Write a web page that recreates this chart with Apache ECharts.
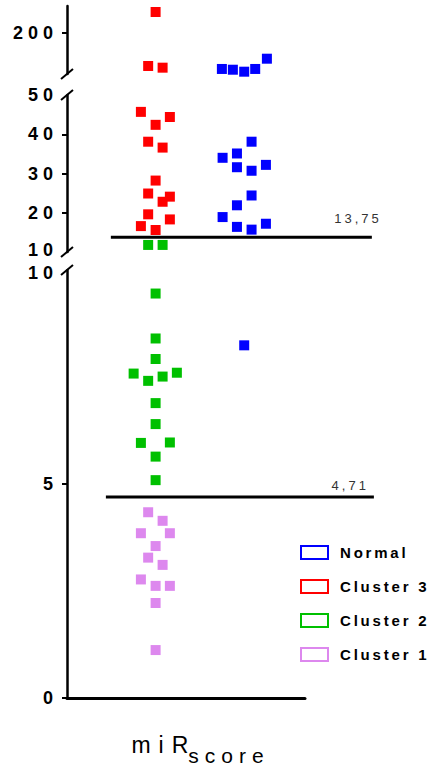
<!DOCTYPE html>
<html>
<head>
<meta charset="utf-8">
<script src="https://cdn.jsdelivr.net/npm/echarts@6/dist/echarts.min.js"></script>
<style>
html, body { margin: 0; padding: 0; background: #fff; }
#chart { width: 442px; height: 771px; }
#chart text[style*="18px"] { letter-spacing: 5px; }
#chart text[style*="15px"] { letter-spacing: 2.8px; }
#chart text[style*="13px"] { letter-spacing: 3px; }
#chart text[style*="23px"] { letter-spacing: 8px; }
#chart text[style*="21px"] { letter-spacing: 6px; }
</style>
</head>
<body>
<div id="chart"></div>
<script>
// ---------------- data ----------------
const groupNames = ['Normal', 'Cluster 3', 'Cluster 2', 'Cluster 1'];
const groupColumns = [2, 1, 1, 1];

const normalValues  = [147.4, 146.3, 143.4, 147.4, 162.5, 38.1, 34.0, 35.1, 31.6, 30.7, 32.2, 24.4, 21.9, 18.9, 16.4, 15.7, 17.2, 8.24];
const normalOffsets = [-0.252, -0.128, 0, 0.124, 0.256, 0.083, -0.244, -0.082, -0.082, 0.083, 0.245, 0.083, -0.082, -0.244, -0.082, 0.083, 0.245, 0];

const cluster3Values  = [231.2, 151.8, 149.3, 45.7, 42.4, 44.4, 38.1, 36.6, 28.2, 24.9, 24.1, 22.8, 19.6, 18.3, 16.6, 15.6];
const cluster3Offsets = [0, -0.084, 0.079, -0.166, 0, 0.161, -0.084, 0.079, 0, -0.084, 0.161, 0.079, -0.084, 0.161, -0.166, 0];

const cluster2Values  = [11.8, 11.8, 9.45, 8.40, 7.92, 7.58, 7.41, 7.51, 7.60, 6.89, 6.40, 5.96, 5.97, 5.64, 5.09];
const cluster2Offsets = [-0.084, 0.079, 0, 0, 0, -0.248, -0.084, 0.079, 0.240, 0, 0, -0.166, 0.161, 0, 0];

const cluster1Values  = [4.34, 4.14, 3.85, 3.85, 3.55, 3.28, 3.11, 2.77, 2.62, 2.62, 2.22, 1.12];
const cluster1Offsets = [-0.084, 0.079, -0.166, 0.161, 0, -0.084, 0.079, -0.166, 0, 0.161, 0, 0];

const thresholdValues = [13.75, 4.71];
const thresholdLabels = ['13,75', '4,71'];

const topTickLabels = [200];
const midTickLabels = [10, 20, 30, 40, 50];
const lowTickLabels = [0, 5, 10];
const xAxisTitle = ['miR', 'score'];

// ---------------- styling / layout ----------------
const groupColors = ['#0000FF', '#FF0000', '#00C000', '#DD88EE'];
const FONT = "'Liberation Sans', Arial, sans-serif";
const gridLeft = 67, gridWidth = 238, xMax = 2.686;
const overlayWidth = 313, overlayXMax = 3.533;
const segments = [
  { min: 140, max: 240, top: 6,   height: 68,  labels: topTickLabels, ticks: [200], edgeStyle: null },
  { min: 10,  max: 50,  top: 95,  height: 157, labels: midTickLabels, ticks: [20, 30, 40], edgeStyle: 'lo' },
  { min: 0,   max: 10,  top: 270, height: 429, labels: lowTickLabels, ticks: [0, 5], edgeStyle: 'hi' }
];
function segmentOf(v) { return v > 100 ? 0 : (v >= 10 ? 1 : 2); }

const groupValues = [normalValues, cluster3Values, cluster2Values, cluster1Values];
const groupOffsets = [normalOffsets, cluster3Offsets, cluster2Offsets, cluster1Offsets];

const grids = segments.map(s => ({ left: gridLeft, width: gridWidth, top: s.top, height: s.height }));
const xAxes = segments.map((s, i) => ({
  type: 'value', gridIndex: i, min: 0, max: xMax,
  show: i === 2,
  axisLine: { show: i === 2, onZero: false, lineStyle: { color: '#000', width: 3 } },
  axisTick: { show: false }, axisLabel: { show: false }, splitLine: { show: false },
  name: i === 2 ? '{a|' + xAxisTitle[0] + '}{b|' + xAxisTitle[1] + '}' : '',
  nameLocation: 'middle', nameGap: 25,
  nameTextStyle: {
    padding: [0, 0, 0, 26],
    rich: {
      a: { fontSize: 23, fontFamily: FONT, color: '#000', padding: [0, 19, 0, 0] },
      b: { fontSize: 21, fontFamily: FONT, color: '#000', padding: [22, 0, 0, 0] }
    }
  }
}));
const labelBase = { fontSize: 18, fontWeight: 'bold', color: '#000', fontFamily: FONT };
const yAxes = segments.map((s, i) => ({
  type: 'value', gridIndex: i, min: s.min, max: s.max,
  axisLine: { show: true, onZero: false, lineStyle: { color: '#000', width: 2.5 } },
  axisTick: { show: true, length: 5, customValues: s.ticks, lineStyle: { color: '#000', width: 2 } },
  axisLabel: Object.assign({
    customValues: s.labels, margin: 9,
    // the two "10" labels at the break sit close together: nudge them apart slightly
    formatter: v => (s.edgeStyle && v === 10) ? '{' + s.edgeStyle + '|' + v + '}' : String(v),
    rich: {
      lo: Object.assign({ padding: [0, 0, 5, 0] }, labelBase),
      hi: Object.assign({ padding: [5, 0, 0, 0] }, labelBase)
    }
  }, labelBase),
  splitLine: { show: false }
}));

// overlay grids (same vertical scale, wider horizontally) for the cut-off lines
[1, 2].forEach(si => {
  const s = segments[si];
  grids.push({ left: gridLeft, width: overlayWidth, top: s.top, height: s.height });
  xAxes.push({ type: 'value', gridIndex: grids.length - 1, min: 0, max: overlayXMax, show: false });
  yAxes.push({ type: 'value', gridIndex: grids.length - 1, min: s.min, max: s.max, show: false });
});

const series = [];
groupNames.forEach((name, g) => {
  segments.forEach((s, si) => {
    const data = [];
    groupValues[g].forEach((v, k) => {
      if (segmentOf(v) === si) data.push([groupColumns[g] + groupOffsets[g][k], v]);
    });
    series.push({
      type: 'scatter', name: name, xAxisIndex: si, yAxisIndex: si,
      data: data, symbol: 'rect', symbolSize: 10, clip: false,
      itemStyle: { color: groupColors[g], opacity: 1 }, z: 2
    });
  });
});

const thresholdLayout = [
  { axis: 3, x0: 0.495, x1: 3.441, offset: [10, -12] },
  { axis: 4, x0: 0.439, x1: 3.464, offset: [-5, -5] }
];
thresholdValues.forEach((v, i) => {
  const L = thresholdLayout[i];
  series.push({
    type: 'line', name: 'threshold' + i, xAxisIndex: L.axis, yAxisIndex: L.axis,
    data: [[L.x0, v], [L.x1, v]], symbol: 'none', showSymbol: false, clip: false, silent: true, z: 5,
    lineStyle: { color: '#000', width: 3 },
    endLabel: {
      show: true, formatter: thresholdLabels[i], distance: 0,
      align: 'right', verticalAlign: 'bottom', offset: L.offset,
      fontSize: 13, color: '#333', fontFamily: FONT
    }
  });
});

// break marks
const graphics = [];
segments.forEach((s, i) => {
  const ys = [];
  if (i > 0) ys.push(s.top);
  if (i < segments.length - 1) ys.push(s.top + s.height);
  ys.forEach(y => graphics.push({
    type: 'line', x: gridLeft, y: y, silent: true, z: 10,
    shape: { x1: -6, y1: 5, x2: 6, y2: -5 },
    style: { stroke: '#000', lineWidth: 2 }
  }));
});

const chart = echarts.init(document.getElementById('chart'), null, { renderer: 'svg' });
chart.setOption({
  animation: false,
  backgroundColor: '#fff',
  grid: grids, xAxis: xAxes, yAxis: yAxes,
  legend: {
    orient: 'vertical', left: 300, top: 545, padding: 0,
    itemWidth: 27, itemHeight: 13, itemGap: 19, icon: 'rect',
    data: groupNames.map((n, g) => ({ name: n, itemStyle: { color: '#fff', borderColor: groupColors[g], borderWidth: 2 } })),
    textStyle: { fontSize: 15, fontWeight: 'bold', color: '#000', fontFamily: FONT, padding: [0, 0, 0, 7] }
  },
  graphic: graphics,
  series: series
});
</script>
</body>
</html>
